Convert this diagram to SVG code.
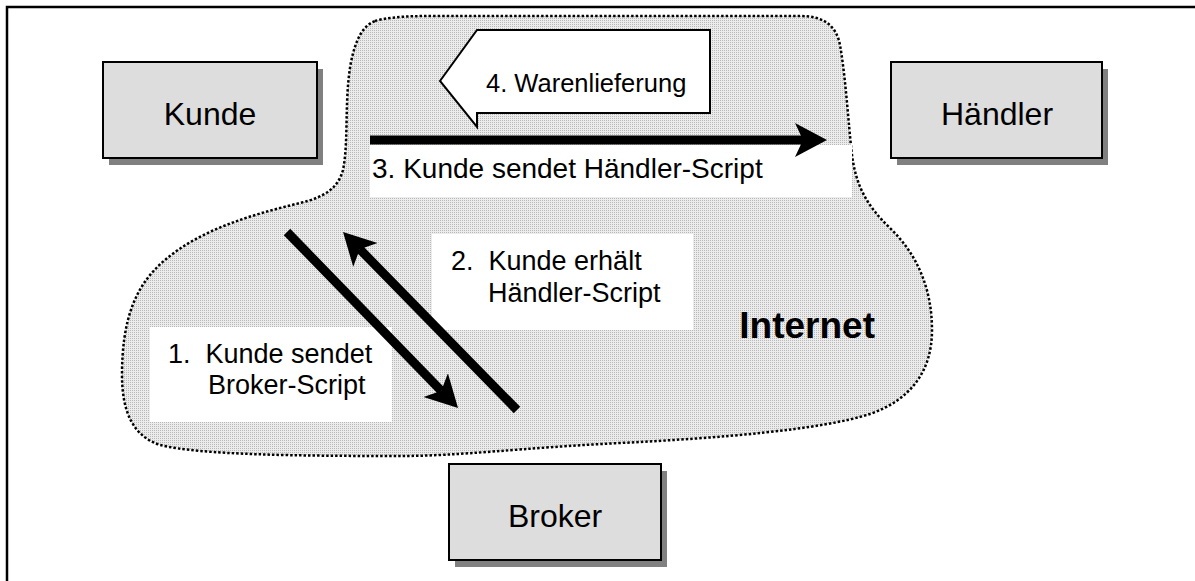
<svg xmlns="http://www.w3.org/2000/svg" width="1195" height="581" viewBox="0 0 1195 581">
<defs>
<pattern id="stip" width="2" height="2" patternUnits="userSpaceOnUse">
<rect width="2" height="2" fill="#ececec"/>
<rect width="1" height="1" fill="#b8b8b8"/>
</pattern>
<marker id="ah" viewBox="0 -18 34 36" markerWidth="34" markerHeight="36" refX="8" refY="0" orient="auto" markerUnits="userSpaceOnUse">
<path d="M32,0 L0,-17 L8,0 L0,17 Z" fill="#000"/>
</marker>
<style>
.node{fill:#dddddd;stroke:#000;stroke-width:2}
.shadow{fill:#808080}
.nt{font-family:"Liberation Sans",Arial,sans-serif;font-size:32px;fill:#000;text-anchor:middle}
.lt{font-family:"Liberation Sans",Arial,sans-serif;font-size:27px;fill:#000}
.lbl{fill:#fff}
.conn{stroke:#000;stroke-width:9;fill:none;marker-end:url(#ah)}
</style>
</defs>
<rect x="0" y="0" width="1195" height="581" fill="#fff"/>
<rect x="7" y="7" width="1200" height="600" fill="none" stroke="#000" stroke-width="2.5"/>
<g id="internet">
<path d="M375,21 C395,15 430,16 460,16 L800,16 C822,16 836,24 840,45 C846,80 848,120 852,155 C856,185 866,205 890,228 C918,255 932,290 932,330 C932,372 910,400 870,414 C820,430 720,438 620,443 C520,448 460,456 400,456 C300,456 200,455 160,445 C132,436 122,410 122,375 C122,320 135,285 165,260 C200,230 250,215 300,203 C325,197 338,188 343,170 C349,140 344,100 351,62 C356,38 363,26 375,21 Z" fill="url(#stip)" stroke="#000" stroke-width="2.5" stroke-dasharray="2.5,2"/>
<text x="875" y="338" text-anchor="end" style="font-family:'Liberation Sans',Arial,sans-serif;font-size:37px;font-weight:bold">Internet</text>
</g>
<g id="kunde">
<rect class="shadow" x="109" y="69" width="214" height="96"/>
<rect class="node" x="103" y="62" width="214" height="96"/>
<text class="nt" x="210" y="125">Kunde</text>
</g>
<g id="haendler">
<rect class="shadow" x="897" y="69" width="211" height="96"/>
<rect class="node" x="891" y="62" width="211" height="96"/>
<text class="nt" x="997" y="125">Händler</text>
</g>
<g id="broker">
<rect class="shadow" x="455" y="471" width="212" height="96"/>
<rect class="node" x="449" y="464" width="212" height="96"/>
<text class="nt" x="555" y="527">Broker</text>
</g>
<g id="warenlieferung">
<path d="M440,81 L477,30 L710,30 L710,113 L477,113 L477,127 Z" fill="#fff" stroke="#000" stroke-width="2"/>
<text class="lt" x="486" y="92" style="font-size:25.5px">4. Warenlieferung</text>
</g>
<g id="label3">
<rect class="lbl" x="370" y="145" width="482" height="52"/>
<text class="lt" x="372" y="178" style="font-size:28px">3. Kunde sendet Händler-Script</text>
</g>
<g id="label2">
<rect class="lbl" x="432" y="234" width="261" height="96"/>
<text class="lt" x="451" y="270" xml:space="preserve">2.  Kunde erhält</text>
<text class="lt" x="488" y="302">Händler-Script</text>
</g>
<g id="label1">
<rect class="lbl" x="150" y="327" width="242" height="95"/>
<text class="lt" x="168" y="363" xml:space="preserve">1.  Kunde sendet</text>
<text class="lt" x="208" y="394">Broker-Script</text>
</g>
<g id="connectors">
<line class="conn" x1="370" y1="140" x2="803" y2="140"/>
<line class="conn" x1="287" y1="232" x2="441.3" y2="390.8"/>
<line class="conn" x1="517" y1="410" x2="359.8" y2="249.2"/>
</g>
</svg>
